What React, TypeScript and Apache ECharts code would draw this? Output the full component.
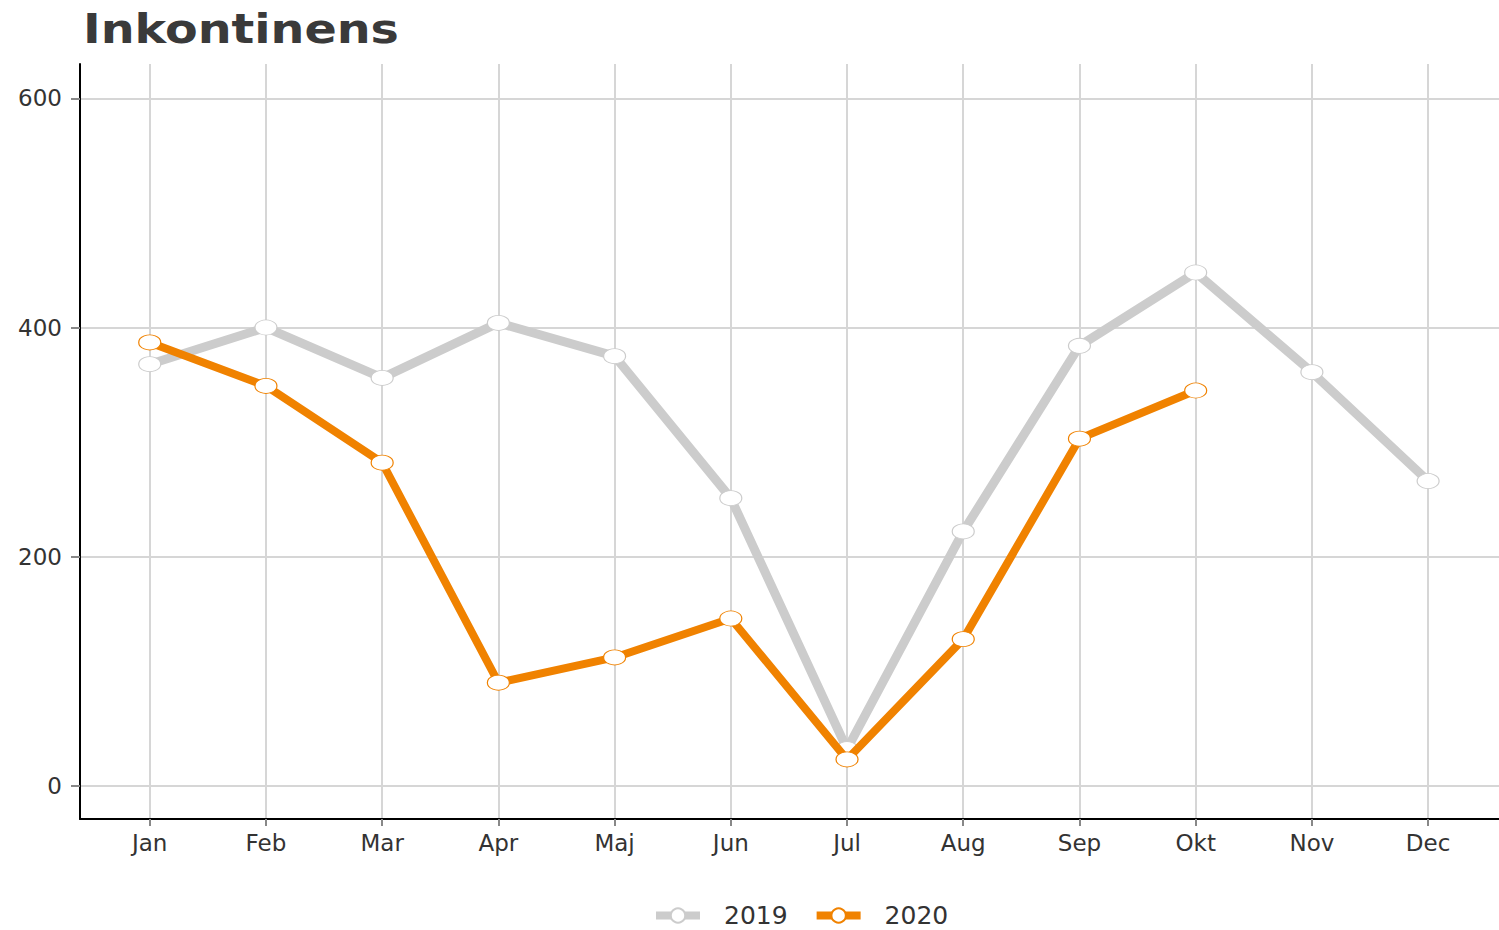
import React, { useEffect, useRef } from "react";
import * as echarts from "echarts";

const months = ["Jan", "Feb", "Mar", "Apr", "Maj", "Jun", "Jul", "Aug", "Sep", "Okt", "Nov", "Dec"];
const values2019 = [368, 400, 356, 404, 375, 251, 32, 222, 384, 448, 361, 266];
const values2020 = [387, 349, 282, 90, 112, 146, 23, 128, 303, 345];
const yTicks = [0, 200, 400, 600];
const title = "Inkontinens";

const GRAY = "#cccccc";
const ORANGE = "#f08200";
const TEXT = "#333333";
const FONT = "'DejaVu Sans', Verdana, sans-serif";

export default function App() {
  const ref = useRef<HTMLDivElement>(null);
  useEffect(() => {
    if (!ref.current) return;
    const chart = echarts.init(ref.current, undefined, { renderer: "svg" });
    const monthIdx = months.map((_, i) => i);
    chart.setOption({
      animation: false,
      textStyle: { fontFamily: FONT },
      graphic: [
        {
          type: "text",
          x: 83,
          y: 9,
          scaleX: 1.19,
          style: {
            text: title,
            font: `bold 40px ${FONT}`,
            fill: "#3a3a3a",
            verticalAlign: "top",
            align: "left",
          },
        },
      ],
      legend: {
        top: 898,
        left: 647,
        itemWidth: 44,
        itemHeight: 18,
        itemGap: 25,
        textStyle: { fontSize: 25, color: TEXT, fontFamily: FONT, padding: [0, 0, 0, 19] },
        lineStyle: { width: 8 },
        data: ["2019", "2020"],
      },
      grid: { left: 80, right: 0, top: 64, bottom: 111, containLabel: false },
      xAxis: {
        type: "value",
        min: -0.6,
        max: 11.61,
        axisLine: { show: true, onZero: false, lineStyle: { color: "#000", width: 2 } },
        axisTick: { show: true, length: 7, customValues: monthIdx, lineStyle: { color: "#888", width: 2 } },
        axisLabel: {
          customValues: monthIdx,
          formatter: (v: number) => months[Math.round(v)] ?? "",
          fontSize: 23,
          color: TEXT,
          margin: 12,
          fontFamily: FONT,
        },
        splitLine: { show: true, lineStyle: { color: "#d6d6d6", width: 2 } },
      },
      yAxis: {
        type: "value",
        min: -29,
        max: 630,
        axisLine: { show: true, onZero: false, lineStyle: { color: "#000", width: 2 } },
        axisTick: { show: true, length: 9, customValues: yTicks, lineStyle: { color: "#888", width: 2 } },
        axisLabel: {
          customValues: yTicks,
          fontSize: 23,
          color: TEXT,
          margin: 18,
          fontFamily: FONT,
        },
        splitLine: { show: true, lineStyle: { color: "#d6d6d6", width: 2 } },
      },
      series: [
        {
          name: "2019",
          type: "line",
          data: values2019.map((v, i) => [i, v]),
          symbol: "circle",
          symbolSize: [22, 15],
          lineStyle: { color: GRAY, width: 9 },
          itemStyle: { color: "#ffffff", borderColor: GRAY, borderWidth: 1 },
          z: 2,
        },
        {
          name: "2020",
          type: "line",
          data: values2020.map((v, i) => [i, v]),
          symbol: "circle",
          symbolSize: [22, 15],
          lineStyle: { color: ORANGE, width: 8 },
          itemStyle: { color: "#ffffff", borderColor: ORANGE, borderWidth: 1 },
          z: 3,
        },
      ],
    });
    return () => chart.dispose();
  }, []);
  return <div ref={ref} style={{ position: "absolute", left: 0, top: 0, width: 1499, height: 930 }} />;
}
